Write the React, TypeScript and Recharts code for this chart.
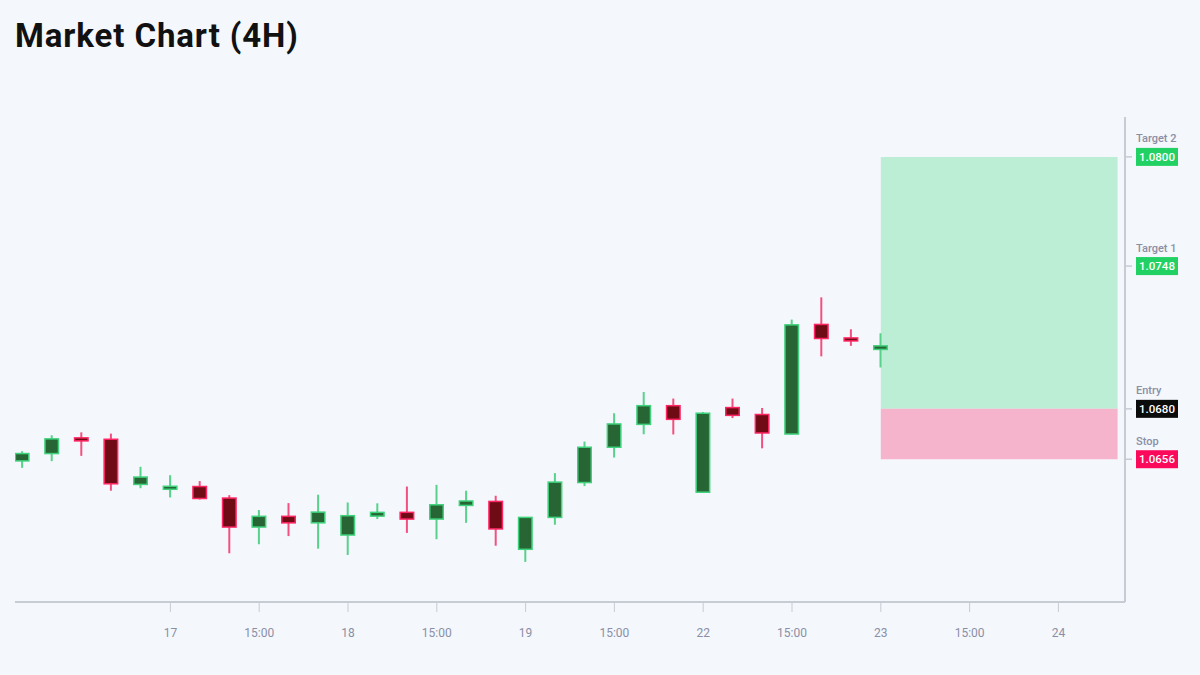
import React from 'react';
import { ComposedChart, Bar, XAxis, YAxis, ReferenceArea } from 'recharts';

// ---- data ----
const candleIndex = [0,1,2,3,4,5,6,7,8,9,10,11,12,13,14,15,16,17,18,19,20,21,22,23,24,25,26,27,28,29];
const opens  = [1.06552,1.06587,1.06657,1.06655,1.06440,1.06418,1.06430,1.06375,1.06237,1.06288,1.06257,1.06199,1.06289,1.06307,1.06275,1.06340,1.06359,1.06131,1.06283,1.06449,1.06617,1.06726,1.06815,1.06403,1.06806,1.06773,1.06680,1.07202,1.07137,1.07083];
const highs  = [1.06598,1.06674,1.06688,1.06682,1.06524,1.06484,1.06456,1.06389,1.06318,1.06351,1.06391,1.06354,1.06350,1.06430,1.06438,1.06410,1.06386,1.06285,1.06494,1.06644,1.06779,1.06880,1.06849,1.06785,1.06849,1.06804,1.07225,1.07331,1.07179,1.07160];
const lows   = [1.06519,1.06551,1.06576,1.06410,1.06422,1.06378,1.06368,1.06112,1.06155,1.06194,1.06134,1.06104,1.06275,1.06209,1.06179,1.06257,1.06148,1.06071,1.06248,1.06432,1.06568,1.06679,1.06678,1.06400,1.06756,1.06612,1.06678,1.07050,1.07100,1.06997];
const closes = [1.06587,1.06657,1.06652,1.06443,1.06475,1.06430,1.06373,1.06237,1.06288,1.06257,1.06308,1.06291,1.06307,1.06275,1.06343,1.06361,1.06228,1.06283,1.06451,1.06617,1.06728,1.06815,1.06750,1.06779,1.06769,1.06685,1.07200,1.07135,1.07124,1.07100];

const xTickPositions = [5, 8, 11, 14, 17, 20, 23, 26, 29, 32, 35];
const xTickLabels = ['17', '15:00', '18', '15:00', '19', '15:00', '22', '15:00', '23', '15:00', '24'];

const levelValues = [1.0800, 1.0748, 1.0680, 1.0656];
const levelNames = ['Target 2', 'Target 1', 'Entry', 'Stop'];

const zoneStartIndex = 29;
const zoneEndIndex = 37;
const entryPrice = 1.0680;
const stopPrice = 1.0656;
const target2Price = 1.0800;

// ---- styles ----
const levelColors: Record<string, string> = {
  'Target 2': '#22d163',
  'Target 1': '#22d163',
  Entry: '#0b0b0b',
  Stop: '#fb0a5b',
};
const BG = '#f4f7fc';
const AXIS = '#c7cbd4';
const TICK_TEXT = '#8a8fa6';
const FONT = 'Roboto, "Noto Sans", sans-serif';

const chartData = candleIndex.map((i) => ({
  x: i,
  open: opens[i],
  high: highs[i],
  low: lows[i],
  close: closes[i],
  range: [lows[i], highs[i]],
}));

const Candle = (props: any) => {
  const { x, y, width, height, payload } = props;
  if (!payload || width == null) return null;
  const { open, close, high, low } = payload;
  const top = Math.min(y, y + height);
  const h = Math.abs(height);
  const ppu = high - low > 0 ? h / (high - low) : 0;
  const yOf = (v: number) => top + (high - v) * ppu;
  const up = close >= open;
  const cx = x + width / 2;
  const bodyTop = yOf(Math.max(open, close));
  const bodyBot = yOf(Math.min(open, close));
  let bh = bodyBot - bodyTop;
  let by = bodyTop;
  if (bh < 3) {
    by = (bodyTop + bodyBot) / 2 - 1.5;
    bh = 3;
  }
  const wick = up ? '#58d18a' : '#f2507f';
  const border = up ? '#3fd27c' : '#ff2463';
  const fill = up ? '#276634' : '#6e0b14';
  return (
    <g>
      <line x1={cx} x2={cx} y1={yOf(high)} y2={yOf(low)} stroke={wick} strokeWidth={2} />
      <rect x={x + 0.75} y={by} width={width - 1.5} height={bh} fill={fill} stroke={border} strokeWidth={1.5} />
    </g>
  );
};

const LevelTick = (props: any) => {
  const { x, y, payload } = props;
  const idx = levelValues.indexOf(payload.value);
  const name = levelNames[idx] ?? '';
  const color = levelColors[name] ?? '#000';
  return (
    <g>
      <text x={x} y={y - 14.5} fill={TICK_TEXT} fontSize={11} fontWeight={500} fontFamily={FONT}>
        {name}
      </text>
      <rect x={x} y={y - 9} width={42} height={18} fill={color} />
      <text x={x + 21} y={y + 4} fill="#ffffff" fontSize={11.5} fontWeight={500} fontFamily={FONT} textAnchor="middle">
        {payload.value.toFixed(4)}
      </text>
    </g>
  );
};

export default function App() {
  return (
    <div style={{ position: 'absolute', left: 0, top: 0, width: 1200, height: 675, background: BG, overflow: 'hidden' }}>
      <div
        style={{
          position: 'absolute',
          left: 15,
          top: 16,
          fontFamily: FONT,
          fontWeight: 700,
          fontSize: 33,
          letterSpacing: 0.9,
          lineHeight: '40px',
          color: '#111111',
          whiteSpace: 'nowrap',
        }}
      >
        Market Chart (4H)
      </div>
      <div style={{ position: 'absolute', left: 0, top: 0 }}>
        <ComposedChart
          width={1200}
          height={675}
          data={chartData}
          margin={{ top: 117, right: 0, bottom: 0, left: 15 }}
        >
          <XAxis
            dataKey="x"
            type="number"
            domain={[-0.25, 37.25]}
            allowDataOverflow
            ticks={xTickPositions}
            tickFormatter={(v: number) => xTickLabels[xTickPositions.indexOf(v)] ?? ''}
            stroke={AXIS}
            strokeWidth={2}
            tickSize={10}
            tickMargin={16}
            height={73}
            tick={{ fill: TICK_TEXT, fontSize: 12, fontFamily: FONT }}
            tickLine={{ stroke: AXIS, strokeWidth: 1 }}
          />
          <YAxis
            orientation="right"
            type="number"
            domain={[1.0588, 1.0819]}
            allowDataOverflow
            ticks={levelValues}
            interval={0}
            width={75}
            stroke={AXIS}
            strokeWidth={2}
            tickSize={7}
            tickMargin={4}
            tick={<LevelTick />}
            tickLine={{ stroke: AXIS, strokeWidth: 1.5 }}
          />
          <ReferenceArea
            x1={zoneStartIndex}
            x2={zoneEndIndex}
            y1={entryPrice}
            y2={target2Price}
            fill="#bcedd5"
            fillOpacity={1}
            stroke="none"
          />
          <ReferenceArea
            x1={zoneStartIndex}
            x2={zoneEndIndex}
            y1={stopPrice}
            y2={entryPrice}
            fill="#f5b4cc"
            fillOpacity={1}
            stroke="none"
          />
          <Bar dataKey="range" barSize={15} shape={<Candle />} isAnimationActive={false} />
        </ComposedChart>
      </div>
    </div>
  );
}
